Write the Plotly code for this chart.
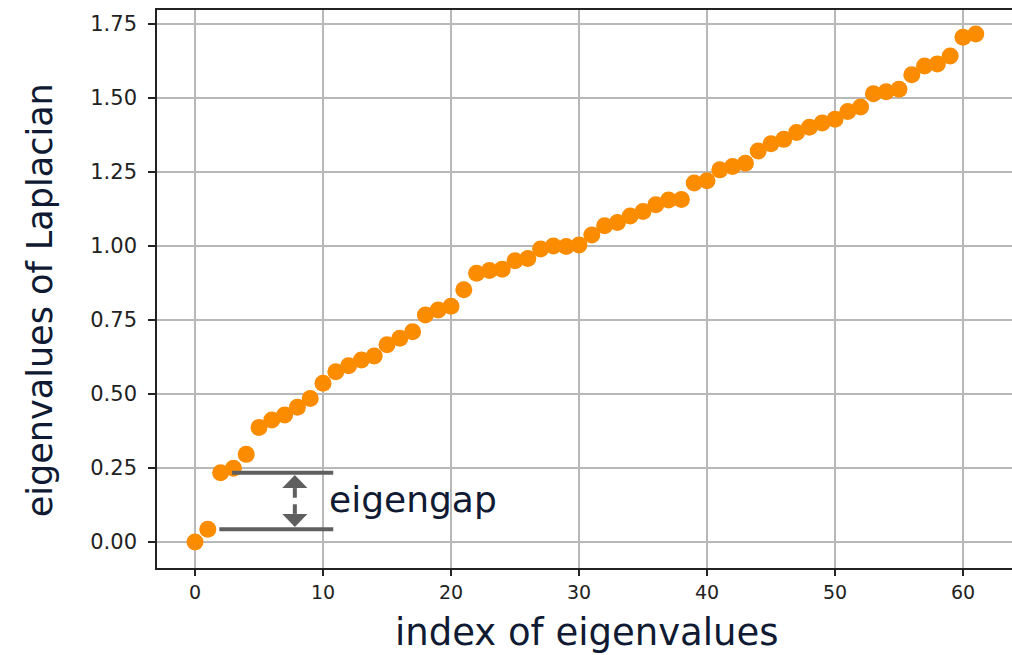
import plotly.graph_objects as go

# ---- data ----
indices = list(range(62))
eigenvalues = [
    0.000, 0.043, 0.234, 0.249, 0.296, 0.387, 0.412, 0.429, 0.455, 0.485,
    0.536, 0.575, 0.595, 0.615, 0.628, 0.666, 0.688, 0.710, 0.767, 0.784,
    0.796, 0.852, 0.908, 0.917, 0.921, 0.950, 0.958, 0.990, 1.000, 0.998,
    1.003, 1.037, 1.068, 1.079, 1.101, 1.116, 1.139, 1.155, 1.157, 1.213,
    1.220, 1.257, 1.268, 1.279, 1.321, 1.345, 1.360, 1.383, 1.401, 1.415,
    1.428, 1.454, 1.469, 1.514, 1.521, 1.529, 1.578, 1.608, 1.615, 1.642,
    1.705, 1.716,
]
x_ticks = [0, 10, 20, 30, 40, 50, 60]
y_ticks = [0.0, 0.25, 0.5, 0.75, 1.0, 1.25, 1.5, 1.75]
y_tick_labels = ["0.00", "0.25", "0.50", "0.75", "1.00", "1.25", "1.50", "1.75"]

x_label = "index of eigenvalues"
y_label = "eigenvalues of Laplacian"
gap_label = "eigengap"

# annotation geometry (data units)
gap_low = eigenvalues[1]
gap_high = eigenvalues[2]
gap_arrow_x = 7.8
gap_line_end = 10.8
gap_low_start = 1.9
gap_high_start = 2.9

ORANGE = "#fb8c00"
GREY = "#5f5f5f"
TEXT = "#101a33"
TITLE_FONT = "DejaVu Sans"

fig = go.Figure()
fig.add_trace(go.Scatter(
    x=indices, y=eigenvalues, mode="markers",
    marker=dict(color=ORANGE, size=17, line=dict(width=0)),
    showlegend=False, hoverinfo="x+y",
))

# eigengap horizontal lines
fig.add_shape(type="line", x0=gap_high_start, x1=gap_line_end, y0=gap_high, y1=gap_high,
              line=dict(color=GREY, width=4))
fig.add_shape(type="line", x0=gap_low_start, x1=gap_line_end, y0=gap_low, y1=gap_low,
              line=dict(color=GREY, width=4))

# double arrow with a broken (dashed) shaft
hw = 0.98
hh = 0.044
up_tip = gap_high - 0.008
dn_tip = gap_low + 0.008
mid = (gap_low + gap_high) / 2
half_gap = 0.011
fig.add_shape(type="line", x0=gap_arrow_x, x1=gap_arrow_x,
              y0=up_tip - hh, y1=mid + half_gap, line=dict(color=GREY, width=4))
fig.add_shape(type="line", x0=gap_arrow_x, x1=gap_arrow_x,
              y0=mid - half_gap, y1=dn_tip + hh, line=dict(color=GREY, width=4))
fig.add_shape(type="path",
              path=f"M {gap_arrow_x} {up_tip} L {gap_arrow_x - hw} {up_tip - hh} L {gap_arrow_x + hw} {up_tip - hh} Z",
              fillcolor=GREY, line=dict(width=0))
fig.add_shape(type="path",
              path=f"M {gap_arrow_x} {dn_tip} L {gap_arrow_x - hw} {dn_tip + hh} L {gap_arrow_x + hw} {dn_tip + hh} Z",
              fillcolor=GREY, line=dict(width=0))

fig.add_annotation(x=gap_line_end - 0.45, y=mid + 0.005,
                   text=gap_label, showarrow=False, xanchor="left", yanchor="middle",
                   font=dict(family=TITLE_FONT, size=36, color=TEXT))

# axis titles as annotations for precise placement
fig.add_annotation(xref="paper", yref="paper", x=0.503, y=-0.1147,
                   text=x_label, showarrow=False, xanchor="center", yanchor="middle",
                   font=dict(family=TITLE_FONT, size=37, color=TEXT))
fig.add_annotation(xref="paper", yref="paper", x=0, xshift=-117, y=0.48,
                   text=y_label, textangle=-90, showarrow=False,
                   xanchor="center", yanchor="middle",
                   font=dict(family=TITLE_FONT, size=35, color=TEXT))

fig.update_layout(
    width=1012, height=655,
    margin=dict(l=157, r=0, t=10, b=87),
    paper_bgcolor="white", plot_bgcolor="white",
    xaxis=dict(
        range=[-2.97, 63.83], tickvals=x_ticks,
        showgrid=True, gridcolor="#b8b8b8", gridwidth=1.6,
        showline=True, linecolor="#222", linewidth=1.6, mirror=True,
        ticks="outside", ticklen=6, tickwidth=1.5, tickcolor="#222",
        tickfont=dict(family="DejaVu Sans", size=19, color="#222"),
        zeroline=False,
    ),
    yaxis=dict(
        range=[-0.0878, 1.797], tickvals=y_ticks, ticktext=y_tick_labels,
        showgrid=True, gridcolor="#b8b8b8", gridwidth=1.6,
        showline=True, linecolor="#222", linewidth=1.6,
        ticks="outside", ticklen=7, tickwidth=1.5, tickcolor="#222",
        ticklabelstandoff=7,
        tickfont=dict(family="DejaVu Sans", size=21, color="#222"),
        zeroline=False,
    ),
)

fig.write_html("out.html")
